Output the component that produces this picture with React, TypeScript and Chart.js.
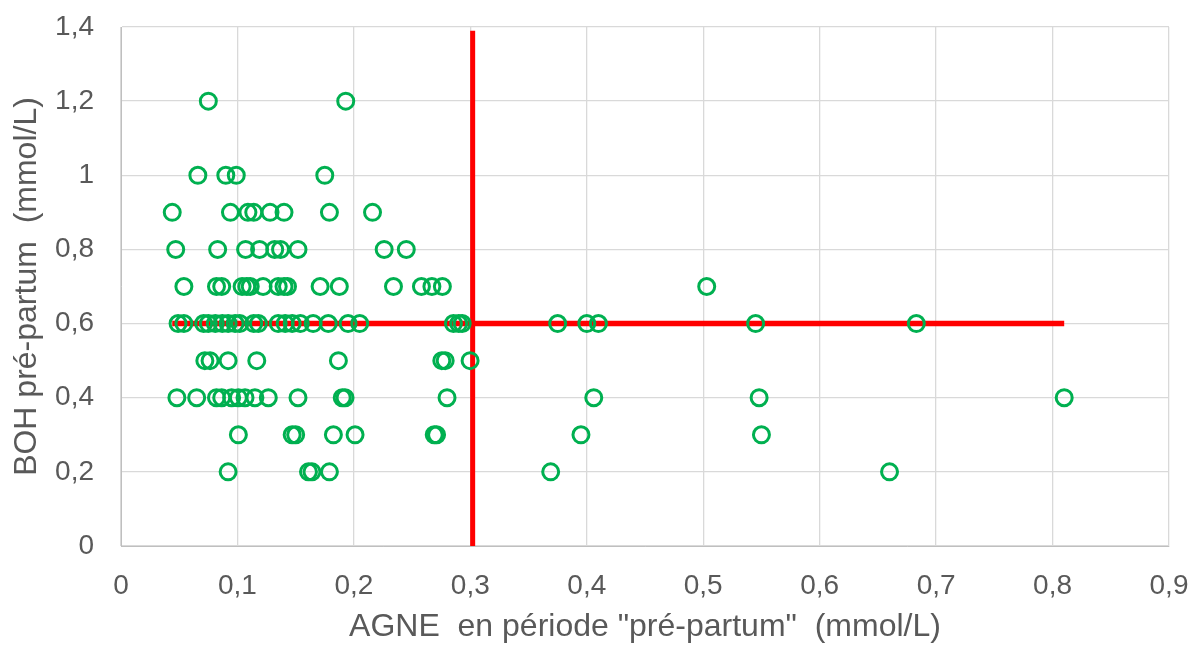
import React, { useEffect, useRef } from "react";
import { Chart, registerables } from "chart.js";

Chart.register(...registerables);

// AGNE values (x) grouped by BOH level (y)
const bohLevels = [1.2, 1.0, 0.9, 0.8, 0.7, 0.6, 0.5, 0.4, 0.3, 0.2];
const agneAt12 = [0.075, 0.193];
const agneAt10 = [0.066, 0.09, 0.099, 0.175];
const agneAt09 = [0.044, 0.094, 0.109, 0.114, 0.128, 0.14, 0.179, 0.216];
const agneAt08 = [0.047, 0.083, 0.107, 0.119, 0.132, 0.137, 0.152, 0.226, 0.245];
const agneAt07 = [0.054, 0.082, 0.0865, 0.104, 0.108, 0.111, 0.122, 0.135, 0.14, 0.143, 0.171, 0.1875, 0.234, 0.258, 0.267, 0.276, 0.503];
const agneAt06 = [0.049, 0.054, 0.071, 0.075, 0.081, 0.087, 0.092, 0.098, 0.102, 0.114, 0.118, 0.135, 0.141, 0.147, 0.154, 0.165, 0.178, 0.195, 0.205, 0.2855, 0.29, 0.293, 0.375, 0.4, 0.41, 0.545, 0.683];
const agneAt05 = [0.072, 0.0765, 0.092, 0.1166, 0.1867, 0.2755, 0.2784, 0.2998];
const agneAt04 = [0.048, 0.065, 0.082, 0.0865, 0.095, 0.1008, 0.1065, 0.115, 0.1265, 0.152, 0.19, 0.1924, 0.28, 0.406, 0.548, 0.81];
const agneAt03 = [0.1008, 0.147, 0.15, 0.1824, 0.201, 0.269, 0.271, 0.395, 0.55];
const agneAt02 = [0.092, 0.161, 0.164, 0.179, 0.369, 0.66];
const agneRows = [agneAt12, agneAt10, agneAt09, agneAt08, agneAt07, agneAt06, agneAt05, agneAt04, agneAt03, agneAt02];

// threshold lines
const agneThreshold = 0.302;
const agneThresholdYRange = [0, 1.39];
const bohThreshold = 0.6;
const bohThresholdXRange = [0.044, 0.81];

const xAxisTitle = 'AGNE  en période "pré-partum"  (mmol/L)';
const yAxisTitle = "BOH pré-partum  (mmol/L)";

const fmt = (v: number) => {
  const r = Math.round(v * 10) / 10;
  return String(r).replace(".", ",");
};

export default function App() {
  const ref = useRef<HTMLCanvasElement | null>(null);

  useEffect(() => {
    document.body.style.margin = "0";
    const points: { x: number; y: number }[] = [];
    agneRows.forEach((row, i) => row.forEach((x) => points.push({ x, y: bohLevels[i] })));

    const font = "'Liberation Sans', Arial, sans-serif";
    const chart = new Chart(ref.current as HTMLCanvasElement, {
      type: "scatter",
      data: {
        datasets: [
          {
            type: "scatter",
            data: points,
            pointStyle: "circle",
            pointRadius: 8,
            pointBorderWidth: 3,
            borderColor: "#00B050",
            backgroundColor: "rgba(0,0,0,0)",
            order: 1,
          } as any,
          {
            type: "line",
            data: agneThresholdYRange.map((y) => ({ x: agneThreshold, y })),
            borderColor: "#FF0000",
            borderWidth: 5,
            pointRadius: 0,
            fill: false,
            order: 2,
          },
          {
            type: "line",
            data: bohThresholdXRange.map((x) => ({ x, y: bohThreshold })),
            borderColor: "#FF0000",
            borderWidth: 5.5,
            pointRadius: 0,
            fill: false,
            order: 2,
          },
        ],
      },
      options: {
        animation: false,
        responsive: false,
        layout: { padding: { top: 27, right: 30, left: 0, bottom: 0 } },
        plugins: { legend: { display: false }, tooltip: { enabled: false } },
        scales: {
          x: {
            type: "linear",
            min: 0,
            max: 0.9,
            afterFit: (s: any) => {
              s.height = 100;
              s.paddingLeft = 0;
              s.paddingRight = 0;
            },
            grid: { color: "#d9d9d9", drawTicks: false, lineWidth: 1.3 },
            border: { color: "#bfbfbf" },
            ticks: {
              stepSize: 0.1,
              padding: 23,
              color: "#595959",
              font: { family: font, size: 28 },
              callback: (v: any) => fmt(Number(v)),
            },
            title: {
              display: true,
              text: xAxisTitle,
              color: "#595959",
              font: { family: font, size: 32 },
              padding: { top: 0, bottom: 0 },
            },
          },
          y: {
            type: "linear",
            min: 0,
            max: 1.4,
            afterFit: (s: any) => {
              s.width = 121;
              s.paddingTop = 0;
              s.paddingBottom = 0;
            },
            grid: { color: "#d9d9d9", drawTicks: false, lineWidth: 1.3 },
            border: { color: "#bfbfbf" },
            ticks: {
              stepSize: 0.2,
              padding: 27,
              color: "#595959",
              font: { family: font, size: 28 },
              callback: (v: any) => fmt(Number(v)),
            },
            title: {
              display: true,
              text: yAxisTitle,
              color: "#595959",
              font: { family: font, size: 32 },
              padding: { top: 8, bottom: 0 },
            },
          },
        },
      },
    });
    return () => chart.destroy();
  }, []);

  return (
    <div style={{ width: 1199, height: 646 }}>
      <canvas ref={ref} width={1199} height={646} style={{ display: "block" }} />
    </div>
  );
}
